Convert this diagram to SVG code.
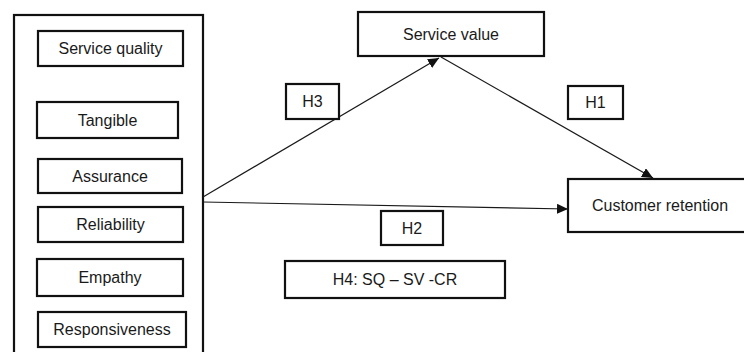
<svg xmlns="http://www.w3.org/2000/svg" width="744" height="352" viewBox="0 0 744 352">
<style>
.box{fill:#fff;stroke:#111;stroke-width:2.2}
.lbl{font-family:"Liberation Sans",Arial,sans-serif;font-size:16px;fill:#1a1a1a;text-anchor:middle}
.con{stroke:#1a1a1a;stroke-width:1.2;fill:none}
</style>
<defs>
<marker id="arr" markerUnits="userSpaceOnUse" markerWidth="12" markerHeight="10" refX="11" refY="5" orient="auto">
<path d="M0,0 L11,5 L0,10 Z" fill="#111"/>
</marker>
</defs>
<rect width="744" height="352" fill="#fff"/>
<g id="sq-group">
<rect class="box" x="14" y="15" width="189" height="350"/>
</g>
<g id="service-quality"><rect class="box" x="38" y="31" width="145" height="35"/><text class="lbl" x="110.5" y="54">Service quality</text></g>
<g id="tangible"><rect class="box" x="37" y="102" width="141" height="36"/><text class="lbl" x="107.5" y="126">Tangible</text></g>
<g id="assurance"><rect class="box" x="38" y="159" width="144" height="34"/><text class="lbl" x="110" y="182">Assurance</text></g>
<g id="reliability"><rect class="box" x="38" y="207" width="145" height="35"/><text class="lbl" x="110.5" y="230">Reliability</text></g>
<g id="empathy"><rect class="box" x="37" y="259" width="146" height="37"/><text class="lbl" x="110" y="283">Empathy</text></g>
<g id="responsiveness"><rect class="box" x="38" y="312" width="148" height="35"/><text class="lbl" x="112" y="335">Responsiveness</text></g>
<g id="service-value"><rect class="box" x="358" y="12" width="186" height="44"/><text class="lbl" x="451" y="40">Service value</text></g>
<g id="customer-retention"><rect class="box" x="568" y="179" width="185" height="53"/><text class="lbl" x="660" y="211">Customer retention</text></g>
<g id="connectors">
<line class="con" x1="203" y1="197" x2="439" y2="58" marker-end="url(#arr)"/>
<line class="con" x1="441" y1="57" x2="653" y2="178" marker-end="url(#arr)"/>
<line class="con" x1="203" y1="202" x2="568" y2="209" marker-end="url(#arr)"/>
</g>
<g id="h1"><rect class="box" x="568" y="86" width="55" height="33"/><text class="lbl" x="595.5" y="108">H1</text></g>
<g id="h3"><rect class="box" x="286" y="84" width="53" height="35"/><text class="lbl" x="312.5" y="107">H3</text></g>
<g id="h2"><rect class="box" x="381" y="211" width="62" height="34"/><text class="lbl" x="412" y="234">H2</text></g>
<g id="h4"><rect class="box" x="285" y="261" width="220" height="37"/><text class="lbl" x="395" y="285">H4: SQ – SV -CR</text></g>
</svg>
